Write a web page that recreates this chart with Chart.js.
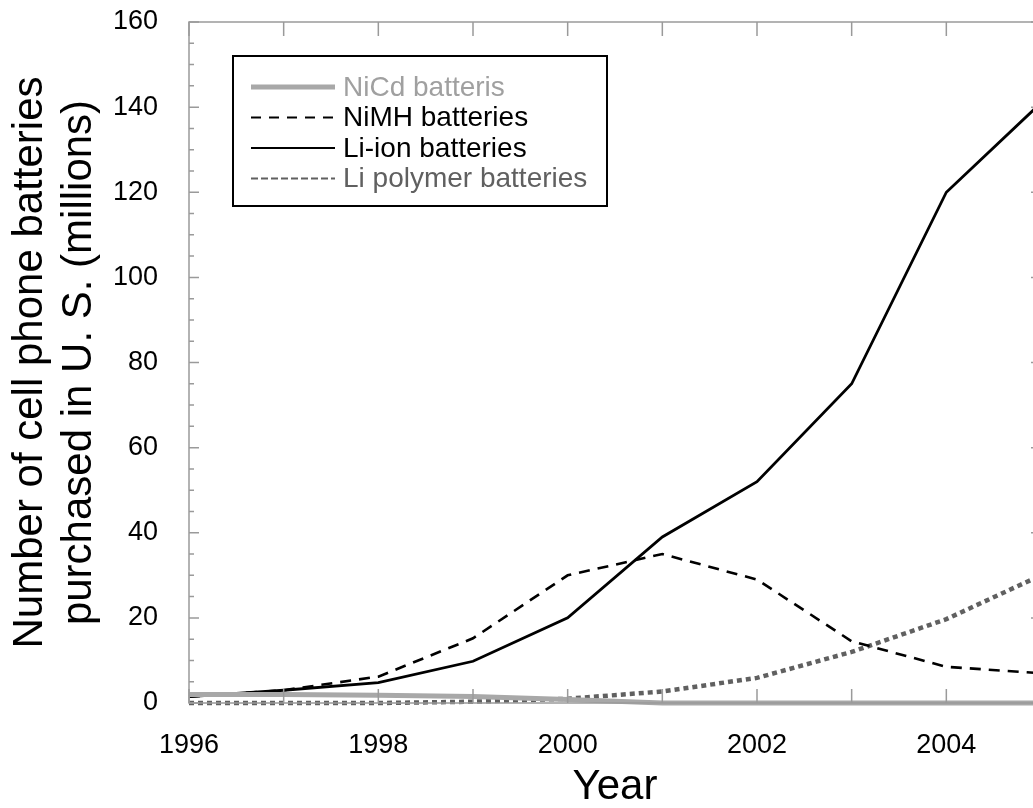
<!DOCTYPE html>
<html>
<head>
<meta charset="utf-8">
<script src="https://cdn.jsdelivr.net/npm/chart.js@4.4.1/dist/chart.umd.min.js"></script>
<style>
  html, body { margin: 0; padding: 0; background: #fff; }
  #wrap { width: 1033px; height: 808px; overflow: hidden; position: relative; }
  #box { width: 1050px; height: 808px; }
</style>
</head>
<body>
<div id="wrap"><div id="box"><canvas id="chart"></canvas></div></div>
<script>
// values (millions)
const years = [1996, 1997, 1998, 1999, 2000, 2001, 2002, 2003, 2004, 2005];
const nicd = [2, 2, 1.8, 1.5, 0.8, 0, 0, 0, 0, 0];
const nimh = [1.5, 3, 6.2, 15.2, 30, 35, 29, 14.5, 8.5, 7];
const liIon = [1.5, 3, 4.8, 9.8, 20, 39, 52, 75, 120, 141];
const liPoly = [0, 0, 0, 0.3, 1, 2.7, 5.9, 12, 19.7, 30];

const seriesLabels = ["NiCd batteris", "NiMH batteries", "Li-ion batteries", "Li polymer batteries"];
const labelColors = ["#a0a0a0", "#000000", "#000000", "#606060"];

const FONT = "'Liberation Sans', Arial, sans-serif";
const FRAME = "#9a9a9a";

function toPoints(values) {
  return years.map((y, i) => ({ x: y, y: values[i] }));
}

// frame with inward ticks on all four sides
const framePlugin = {
  id: "frame",
  afterDatasetsDraw(chart) {
    const ctx = chart.ctx;
    const a = chart.chartArea;
    const xs = chart.scales.x;
    const ys = chart.scales.y;
    ctx.save();
    ctx.strokeStyle = FRAME;
    ctx.lineWidth = 1.5;
    ctx.strokeRect(a.left, a.top, a.right - a.left, a.bottom - a.top);
    ctx.beginPath();
    xs.ticks.forEach((t) => {
      const px = xs.getPixelForValue(t.value);
      ctx.moveTo(px, a.bottom);
      ctx.lineTo(px, a.bottom - 14);
      ctx.moveTo(px, a.top);
      ctx.lineTo(px, a.top + 14);
    });
    ys.ticks.forEach((t) => {
      const py = ys.getPixelForValue(t.value);
      const len = t.value % 20 === 0 ? 10 : 5;
      ctx.moveTo(a.left, py);
      ctx.lineTo(a.left + len, py);
      ctx.moveTo(a.right, py);
      ctx.lineTo(a.right - len, py);
    });
    ctx.stroke();
    ctx.restore();
  },
};

// boxed legend inside the plot
const legendBoxPlugin = {
  id: "legendBox",
  afterDraw(chart) {
    const ctx = chart.ctx;
    const a = chart.chartArea;
    const x0 = a.left + 44;
    const y0 = a.top + 34;
    const w = 374;
    const h = 150;
    ctx.save();
    ctx.fillStyle = "#fff";
    ctx.fillRect(x0, y0, w, h);
    ctx.strokeStyle = "#000";
    ctx.lineWidth = 2;
    ctx.strokeRect(x0, y0, w, h);
    ctx.font = "28px " + FONT;
    ctx.textBaseline = "middle";
    chart.data.datasets.forEach((ds, i) => {
      const cy = y0 + 31 + i * 30.5;
      ctx.beginPath();
      ctx.strokeStyle = ds.borderColor;
      ctx.lineWidth = ds.legendWidth || ds.borderWidth;
      ctx.setLineDash(ds.legendDash || ds.borderDash || []);
      ctx.moveTo(x0 + 18, cy);
      ctx.lineTo(x0 + 102, cy);
      ctx.stroke();
      ctx.setLineDash([]);
      ctx.fillStyle = labelColors[i];
      ctx.fillText(ds.label, x0 + 110, cy + 1);
    });
    ctx.restore();
  },
};

new Chart(document.getElementById("chart"), {
  type: "line",
  data: {
    datasets: [
      {
        label: seriesLabels[0],
        data: toPoints(nicd),
        borderColor: "#a8a8a8",
        borderWidth: 5,
        legendWidth: 5,
      },
      {
        label: seriesLabels[1],
        data: toPoints(nimh),
        borderColor: "#000",
        borderWidth: 2.6,
        borderDash: [11, 8],
        legendWidth: 2,
        legendDash: [10, 8],
      },
      {
        label: seriesLabels[2],
        data: toPoints(liIon),
        borderColor: "#000",
        borderWidth: 2.8,
        legendWidth: 2,
      },
      {
        label: seriesLabels[3],
        data: toPoints(liPoly),
        borderColor: "#606060",
        borderWidth: 4.5,
        borderDash: [5, 4],
        legendWidth: 2,
        legendDash: [7, 3],
      },
    ],
  },
  options: {
    responsive: true,
    maintainAspectRatio: false,
    animation: false,
    layout: { padding: { top: 22, right: 9, left: 0, bottom: 0 } },
    elements: {
      point: { radius: 0 },
      line: { tension: 0, fill: false, borderCapStyle: "butt" },
    },
    datasets: { line: { clip: 6 } },
    plugins: {
      legend: { display: false },
      tooltip: { enabled: false },
    },
    scales: {
      x: {
        type: "linear",
        min: 1996,
        max: 2005,
        grid: { display: false },
        border: { display: false },
        ticks: {
          stepSize: 1,
          autoSkip: false,
          maxRotation: 0,
          padding: 18,
          color: "#000",
          font: { family: FONT, size: 27 },
          callback: (v) => (v % 2 === 0 ? String(v) : ""),
        },
        title: {
          display: true,
          text: "Year",
          color: "#000",
          font: { family: FONT, size: 42, lineHeight: 1 },
          padding: { top: 0, bottom: 0 },
        },
        afterFit(scale) {
          scale.height = 105;
          scale.paddingLeft = 0;
          scale.paddingRight = 0;
        },
      },
      y: {
        min: 0,
        max: 160,
        grid: { display: false },
        border: { display: false },
        ticks: {
          stepSize: 5,
          autoSkip: false,
          padding: 23,
          color: "#000",
          font: { family: FONT, size: 27 },
          callback: (v) => (v % 20 === 0 ? String(v) : ""),
        },
        title: {
          display: true,
          text: ["Number of cell phone batteries", "purchased in U. S. (millions)"],
          color: "#000",
          font: { family: FONT, size: 42, lineHeight: 1.17 },
          padding: { top: 6, bottom: 0 },
        },
        afterFit(scale) {
          scale.width = 189;
          scale.paddingTop = 0;
          scale.paddingBottom = 0;
        },
      },
    },
  },
  plugins: [framePlugin, legendBoxPlugin],
});
</script>
</body>
</html>
